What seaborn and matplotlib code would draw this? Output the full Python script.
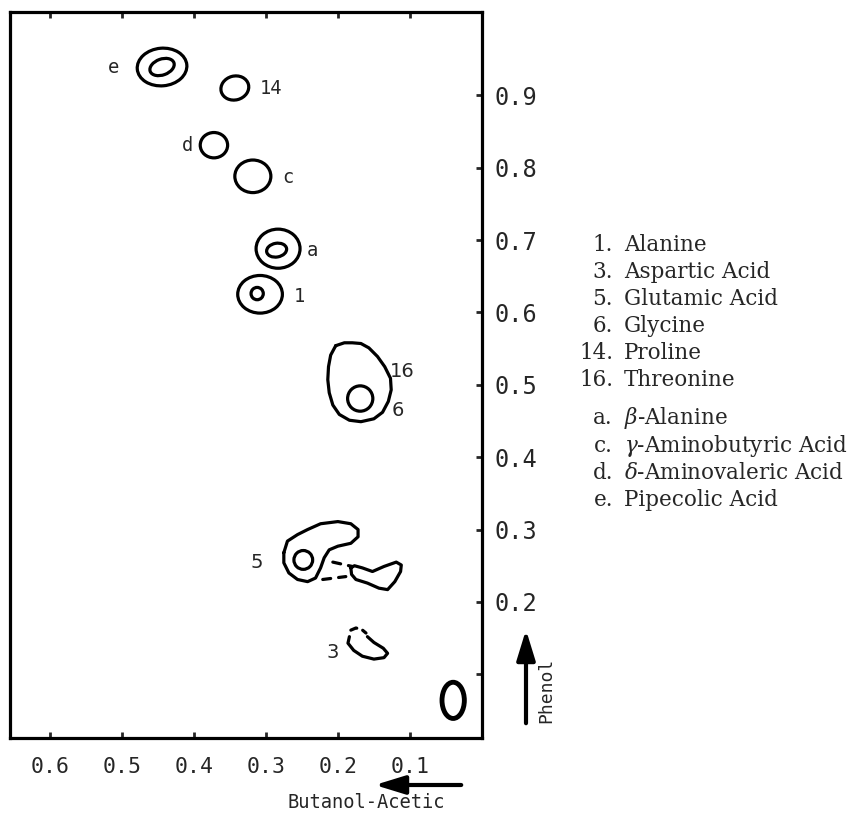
import matplotlib
matplotlib.use("Agg")
import matplotlib.pyplot as plt
import seaborn as sns
import pandas as pd
from matplotlib.patches import Ellipse, FancyArrowPatch

# Rf values (x: butanol-acetic, y: phenol)
# simple round spots: centre x, centre y, width, height, tilt
spot_names = ["e", "e_in", "14", "d", "c", "a", "a_in", "1", "1_in", "6_in", "5_in", "origin"]
spot_x = [0.444, 0.444, 0.343, 0.372, 0.318, 0.283, 0.285, 0.308, 0.312, 0.169, 0.248, 0.040]
spot_y = [0.939, 0.939, 0.910, 0.831, 0.788, 0.688, 0.686, 0.625, 0.626, 0.481, 0.258, 0.064]
spot_w = [0.069, 0.035, 0.039, 0.038, 0.050, 0.061, 0.028, 0.062, 0.017, 0.035, 0.026, 0.031]
spot_h = [0.052, 0.022, 0.033, 0.035, 0.045, 0.054, 0.019, 0.052, 0.017, 0.035, 0.026, 0.050]
spot_tilt = [-5, -20, -15, 0, 0, 0, -10, 0, 0, 0, 0, 0]

# threonine (16) outline
thr_x = [0.203, 0.191, 0.180, 0.168, 0.157, 0.145, 0.135, 0.127, 0.126, 0.130,
         0.138, 0.150, 0.168, 0.184, 0.198, 0.207, 0.212, 0.214, 0.213, 0.210]
thr_y = [0.554, 0.558, 0.558, 0.557, 0.551, 0.539, 0.525, 0.509, 0.493, 0.477,
         0.462, 0.453, 0.449, 0.451, 0.459, 0.472, 0.489, 0.507, 0.525, 0.541]

# glutamic acid (5) outline
glu_x = [0.275, 0.270, 0.256, 0.242, 0.224, 0.200, 0.182, 0.172, 0.172, 0.182,
         0.200, 0.212, 0.219, 0.224, 0.231, 0.242, 0.256, 0.268, 0.275]
glu_y = [0.268, 0.284, 0.293, 0.300, 0.308, 0.311, 0.308, 0.300, 0.290, 0.281,
         0.277, 0.272, 0.261, 0.247, 0.233, 0.228, 0.231, 0.240, 0.254]

# tail piece right of glutamic acid
tail_x = [0.182, 0.177, 0.166, 0.152, 0.136, 0.119, 0.112, 0.113, 0.121, 0.131,
          0.143, 0.159, 0.175, 0.181]
tail_y = [0.247, 0.250, 0.247, 0.242, 0.249, 0.255, 0.251, 0.242, 0.228, 0.217,
          0.219, 0.226, 0.231, 0.238]

# faint (dashed) links between glutamic acid and tail
dash1_x = [0.207, 0.180]
dash1_y = [0.255, 0.249]
dash2_x = [0.221, 0.189]
dash2_y = [0.231, 0.235]

# aspartic acid (3)
asp_x = [0.159, 0.150, 0.137, 0.131, 0.136, 0.150, 0.166, 0.178, 0.186, 0.184]
asp_y = [0.152, 0.144, 0.136, 0.129, 0.123, 0.121, 0.125, 0.133, 0.143, 0.152]
asp_dash_x = [0.182, 0.175, 0.167, 0.161]
asp_dash_y = [0.161, 0.164, 0.162, 0.157]

# spot labels
mono_labels = ["e", "14", "d", "c", "a", "1"]
mono_lx = [0.511, 0.293, 0.408, 0.269, 0.236, 0.254]
mono_ly = [0.938, 0.910, 0.831, 0.786, 0.685, 0.622]
hand_labels = ["16", "6", "5", "3"]
hand_lx = [0.110, 0.117, 0.3125, 0.207]
hand_ly = [0.518, 0.464, 0.254, 0.130]

xticks = [0.6, 0.5, 0.4, 0.3, 0.2, 0.1]
yticks = [0.1, 0.2, 0.3, 0.4, 0.5, 0.6, 0.7, 0.8, 0.9]
ytick_labels = ["", "0.2", "0.3", "0.4", "0.5", "0.6", "0.7", "0.8", "0.9"]

legend_keys = ["1.", "3.", "5.", "6.", "14.", "16.", "a.", "c.", "d.", "e."]
legend_names = ["Alanine", "Aspartic Acid", "Glutamic Acid", "Glycine", "Proline",
                "Threonine", r"$\beta$-Alanine", r"$\gamma$-Aminobutyric Acid",
                r"$\delta$-Aminovaleric Acid", "Pipecolic Acid"]

sns.set_style("white")
plt.rcParams['font.family'] = ['DejaVu Sans Mono', 'DejaVu Sans']
plt.rcParams['mathtext.fontset'] = 'dejavuserif'

W, H = 852, 814
fig = plt.figure(figsize=(W / 100, H / 100), dpi=100)
ax = fig.add_axes([10 / W, 1 - 738 / H, 472 / W, 726 / H])
ax.set_xlim(0.655, 0.0)
ax.set_ylim(0.012, 1.015)

ink = "black"
lw = 2.3

for x, y, w, h, t in zip(spot_x, spot_y, spot_w, spot_h, spot_tilt):
    ax.add_patch(Ellipse((x, y), w, h, angle=t, fill=False, ec=ink, lw=lw))
# origin mark drawn heavier
ax.patches[-1].set_linewidth(3.5)


def outline(xs, ys, closed=True, ls="-"):
    if closed:
        xs = list(xs) + [xs[0]]
        ys = list(ys) + [ys[0]]
    d = pd.DataFrame({"x": xs, "y": ys})
    sns.lineplot(data=d, x="x", y="y", sort=False, estimator=None, ax=ax,
                 color=ink, lw=lw, linestyle=ls, solid_joinstyle="round",
                 solid_capstyle="round", dash_capstyle="round")


outline(thr_x, thr_y)
outline(glu_x, glu_y)
outline(tail_x, tail_y)
outline(asp_x, asp_y, closed=False)
for dx, dy in [(dash1_x, dash1_y), (dash2_x, dash2_y)]:
    outline(dx, dy, closed=False, ls=(0, (2.5, 2.5)))
outline(asp_dash_x, asp_dash_y, closed=False, ls=(0, (2, 2)))

for t, x, y in zip(mono_labels, mono_lx, mono_ly):
    ax.text(x, y, t, ha="center", va="center", fontsize=13.5,
            family="DejaVu Sans Mono")
for t, x, y in zip(hand_labels, hand_lx, hand_ly):
    ax.text(x, y, t, ha="center", va="center", fontsize=14,
            family="DejaVu Sans")

ax.set_xlabel("")
ax.set_ylabel("")
ax.set_xticks(xticks)
ax.set_xticklabels([f"{v:.1f}" for v in xticks], fontsize=15.5)
ax.set_yticks(yticks)
ax.set_yticklabels(ytick_labels, fontsize=17)
ax.yaxis.tick_right()
ax.tick_params(axis="x", direction="in", length=4, width=2, top=True,
               bottom=True, pad=14)
ax.tick_params(axis="y", direction="in", length=4, width=2, left=False,
               right=True, pad=9)
for s in ax.spines.values():
    s.set_visible(True)
    s.set_linewidth(2.3)
    s.set_color(ink)


def fx(px):
    return px / W


def fy(py):
    return 1 - py / H


# solvent direction arrows
arrow = dict(arrowstyle="-|>,head_length=1.3,head_width=0.4", lw=3, color=ink)
fig.add_artist(FancyArrowPatch(
    (fx(526), fy(726)), (fx(526), fy(627)), transform=fig.transFigure,
    mutation_scale=14, **arrow))
fig.add_artist(FancyArrowPatch(
    (fx(464), fy(785)), (fx(372), fy(785)), transform=fig.transFigure,
    mutation_scale=14, **arrow))
fig.text(fx(546), fy(690), "Phenol", rotation=90, ha="center", va="center",
         fontsize=13, family="DejaVu Sans Mono")
fig.text(fx(366), fy(803), "Butanol-Acetic", ha="center", va="center",
         fontsize=13.5, family="DejaVu Sans Mono")

# key
key_y = [245, 272, 299, 326, 353, 380, 418, 446, 473, 500]
for k, n, y in zip(legend_keys, legend_names, key_y):
    fig.text(fx(613), fy(y), k, ha="right", va="center", fontsize=15.5,
             family="DejaVu Serif")
    fig.text(fx(624), fy(y), n, ha="left", va="center", fontsize=15.5,
             family="DejaVu Serif")

fig.savefig("out.png", dpi=100)
